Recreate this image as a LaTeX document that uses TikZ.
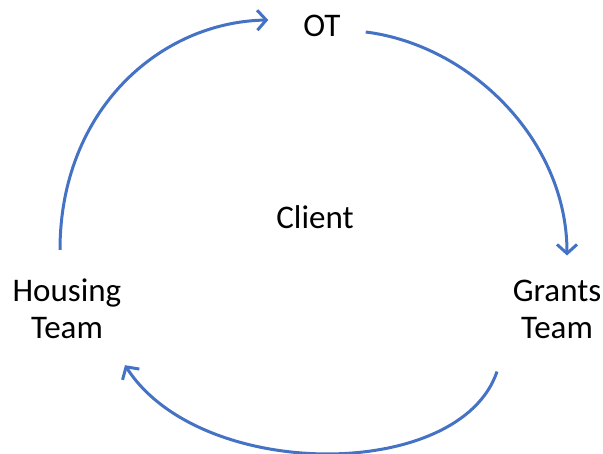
\documentclass[tikz,border=0pt]{standalone}
\usepackage{fontspec}
\setmainfont{Carlito}
\usetikzlibrary{arrows.meta}
\definecolor{officeblue}{HTML}{4472C4}
\tikzset{
  label/.style={inner sep=0pt, align=center, font=\fontsize{33}{37}\selectfont},
  cycle/.style={draw=officeblue, line width=3pt, -{Straight Barb[length=9pt,width=20pt,line width=3pt]}}
}
\begin{document}
\begin{tikzpicture}[x=1pt,y=-1pt]
        \useasboundingbox (0,0) rectangle (603,453);
        % Define the team nodes
        \node[label] (ot) at (322,26) {OT};
        \node[label] (client) at (315,217) {Client};
        \node[label] (housing) at (67,309) {Housing\\Team};
        \node[label] (grants) at (557,309) {Grants\\Team};
        
        % Define the cycle (directed)
        \draw[cycle] ([shift={(-7,-29)}]housing.north) .. controls (60,110) and (160,22) .. ([shift={(-35,-6)}]ot.west);
        \draw[cycle] ([shift={(25,6)}]ot.east) .. controls (470,45) and (567,140) .. ([shift={(10,-24)}]grants.north);
        \draw[cycle] ([shift={(-60,33)}]grants.south) .. controls (460,482) and (200,482) .. ([shift={(58,26)}]housing.south);
        
    \end{tikzpicture}
\end{document}
